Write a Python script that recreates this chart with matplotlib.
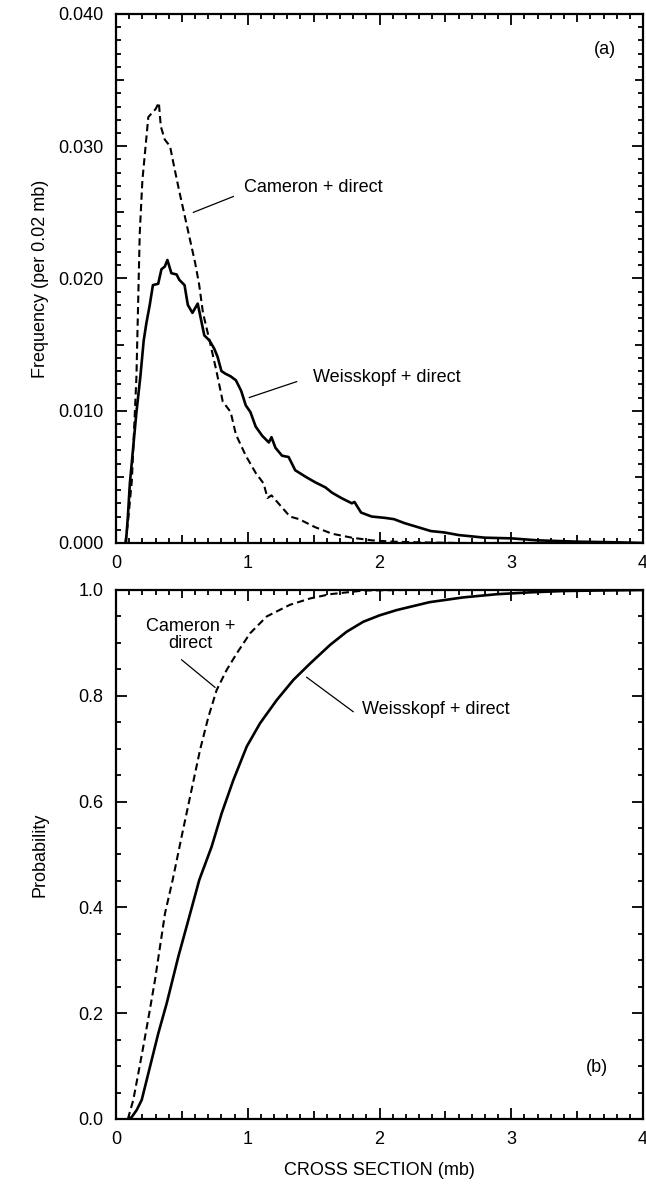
"""
Cross-section distributions: frequency (a) and cumulative probability (b)
for Cameron + direct and Weisskopf + direct.
"""
import matplotlib
matplotlib.use("Agg")
import matplotlib.pyplot as plt
from matplotlib.ticker import MultipleLocator, FuncFormatter

plt.rcParams["font.family"] = ["Liberation Sans", "DejaVu Sans"]
plt.rcParams["font.size"] = 13

# --------- DATA ---------
# (a) frequency per 0.02 mb
cam_x = [0.07, 0.09, 0.12, 0.155, 0.18, 0.20, 0.245, 0.28, 0.30, 0.325, 0.34, 0.37,
         0.41, 0.44, 0.48, 0.54, 0.60, 0.63, 0.66, 0.71, 0.76, 0.81, 0.87, 0.91,
         0.985, 1.06, 1.12, 1.15, 1.18, 1.25, 1.32, 1.39, 1.51, 1.64, 1.79, 1.94,
         2.1, 2.3, 2.6, 3.0, 4.0]
cam_y = [0.0, 0.0015, 0.0047, 0.0126, 0.0234, 0.0274, 0.0322, 0.0326, 0.0328, 0.0333,
         0.0315, 0.0305, 0.0300, 0.0285, 0.0266, 0.0239, 0.0212, 0.0196, 0.0174,
         0.0153, 0.0131, 0.0107, 0.0099, 0.0082, 0.0066, 0.0053, 0.0045, 0.0034,
         0.0036, 0.0028, 0.0020, 0.0018, 0.0012, 0.0007, 0.0004, 0.0002, 0.0001,
         0.00005, 0.0, 0.0, 0.0]

wei_x = [0.075, 0.09, 0.105, 0.13, 0.155, 0.185, 0.21, 0.23, 0.256, 0.28, 0.32, 0.345,
         0.37, 0.39, 0.42, 0.46, 0.48, 0.52, 0.545, 0.58, 0.62, 0.645, 0.67, 0.71,
         0.745, 0.77, 0.80, 0.83, 0.87, 0.91, 0.95, 0.985, 1.02, 1.06, 1.11, 1.16,
         1.18, 1.21, 1.26, 1.31, 1.36, 1.44, 1.51, 1.59, 1.64, 1.71, 1.79, 1.81,
         1.86, 1.94, 2.04, 2.11, 2.19, 2.29, 2.39, 2.49, 2.6, 2.8, 3.0, 3.2, 3.5,
         3.8, 4.0]
wei_y = [0.0, 0.0020, 0.0045, 0.0072, 0.0099, 0.0126, 0.0153, 0.0166, 0.0180, 0.0195,
         0.0196, 0.0207, 0.0209, 0.0214, 0.0204, 0.0203, 0.0199, 0.0195, 0.0180,
         0.0174, 0.0181, 0.0169, 0.0157, 0.0153, 0.0147, 0.0141, 0.0130, 0.0128,
         0.0126, 0.0123, 0.0115, 0.0104, 0.0099, 0.0088, 0.0081, 0.0076, 0.0080,
         0.0072, 0.0066, 0.0065, 0.0055, 0.0050, 0.0046, 0.0042, 0.0038, 0.0034,
         0.0030, 0.0031, 0.0023, 0.0020, 0.0019, 0.0018, 0.0015, 0.0012, 0.0009,
         0.0008, 0.0006, 0.0004, 0.00035, 0.0002, 0.0001, 0.00005, 0.0]

# (b) cumulative probability
camc_x = [0.09, 0.131, 0.169, 0.207, 0.253, 0.296, 0.334, 0.372, 0.43, 0.498, 0.562,
          0.638, 0.701, 0.764, 0.840, 0.916, 1.017, 1.144, 1.32, 1.473, 1.624, 1.88,
          2.2, 4.0]
camc_y = [0.0, 0.036, 0.086, 0.137, 0.201, 0.263, 0.326, 0.389, 0.452, 0.534, 0.609,
          0.698, 0.760, 0.811, 0.849, 0.880, 0.918, 0.950, 0.972, 0.984, 0.992, 0.999,
          1.0, 1.0]

weic_x = [0.10, 0.12, 0.157, 0.195, 0.258, 0.321, 0.385, 0.473, 0.549, 0.632, 0.726,
          0.802, 0.891, 0.992, 1.093, 1.22, 1.346, 1.473, 1.624, 1.75, 1.877, 2.0,
          2.13, 2.38, 2.636, 2.89, 3.14, 3.39, 3.65, 4.0]
weic_y = [0.0, 0.004, 0.017, 0.036, 0.099, 0.162, 0.219, 0.307, 0.376, 0.452, 0.515,
          0.578, 0.641, 0.704, 0.748, 0.792, 0.830, 0.861, 0.896, 0.921, 0.940, 0.952,
          0.962, 0.977, 0.986, 0.992, 0.9955, 0.998, 0.999, 1.0]

# --------- FIGURE ---------
fig = plt.figure(figsize=(6.46, 11.84), dpi=100)
ax_a = fig.add_axes([0.1796, 0.5414, 0.8158, 0.4468])
ax_b = fig.add_axes([0.1796, 0.0549, 0.8158, 0.4468])

SOLID = dict(color="black", linewidth=1.9, linestyle="-")
DASHED = dict(color="black", linewidth=1.5, linestyle=(0, (3.5, 2.0)))


def style_axes(ax, medium_step):
    for sp in ax.spines.values():
        sp.set_linewidth(1.6)
    ax.tick_params(which="both", direction="in", top=True, right=True, width=1.3)
    ax.tick_params(which="major", length=8, pad=9, labelsize=13)
    ax.tick_params(which="minor", length=3.3)
    ax.xaxis.set_major_locator(MultipleLocator(1))
    ax.xaxis.set_minor_locator(MultipleLocator(0.1))
    ax.xaxis.set_major_formatter(FuncFormatter(lambda v, p: f"{v:.0f}"))
    ax.set_xlim(0, 4)
    # medium length ticks at the half units
    fig.canvas.draw()
    for axis, step in ((ax.xaxis, 0.5), (ax.yaxis, medium_step)):
        if step is None:
            continue
        locs = axis.get_minorticklocs()
        for loc, tick in zip(locs, axis.get_minor_ticks(len(locs))):
            if abs(loc / step - round(loc / step)) < 1e-6:
                tick.tick1line.set_markersize(5.8)
                tick.tick2line.set_markersize(5.8)


# (a)
ax_a.plot(cam_x, cam_y, **DASHED)
ax_a.plot(wei_x, wei_y, **SOLID)
ax_a.set_ylim(0, 0.040)
ax_a.yaxis.set_major_locator(MultipleLocator(0.010))
ax_a.yaxis.set_minor_locator(MultipleLocator(0.001))
ax_a.yaxis.set_major_formatter(FuncFormatter(lambda v, p: f"{v:.3f}"))
ax_a.set_ylabel("Frequency (per 0.02 mb)", fontsize=13)
ax_a.yaxis.set_label_coords(-0.128, 0.5)
ax_a.text(3.71, 0.0373, "(a)", ha="center", va="center", fontsize=13)
ax_a.plot([0.587, 0.891], [0.0250, 0.0262], color="black", linewidth=0.9)
ax_a.text(0.972, 0.0269, "Cameron + direct", ha="left", va="center", fontsize=13)
ax_a.plot([1.012, 1.371], [0.0110, 0.0122], color="black", linewidth=0.9)
ax_a.text(1.498, 0.0125, "Weisskopf + direct", ha="left", va="center", fontsize=13)

# (b)
ax_b.plot(camc_x, camc_y, **DASHED)
ax_b.plot(weic_x, weic_y, **SOLID)
ax_b.set_ylim(0, 1.0)
ax_b.yaxis.set_major_locator(MultipleLocator(0.2))
ax_b.yaxis.set_minor_locator(MultipleLocator(0.05))
ax_b.yaxis.set_major_formatter(FuncFormatter(lambda v, p: f"{v:.1f}"))
ax_b.set_ylabel("Probability", fontsize=13)
ax_b.yaxis.set_label_coords(-0.128, 0.5)
ax_b.set_xlabel("CROSS SECTION (mb)", fontsize=13, labelpad=10)
ax_b.text(3.65, 0.097, "(b)", ha="center", va="center", fontsize=13)
ax_b.plot([0.498, 0.751], [0.868, 0.816], color="black", linewidth=0.9)
ax_b.text(0.568, 0.915, "Cameron +\ndirect", ha="center", va="center",
          fontsize=13, linespacing=0.95)
ax_b.plot([1.447, 1.80], [0.835, 0.770], color="black", linewidth=0.9)
ax_b.text(1.87, 0.775, "Weisskopf + direct", ha="left", va="center", fontsize=13)

style_axes(ax_a, 0.005)
style_axes(ax_b, None)

fig.savefig("out.png", dpi=100)
